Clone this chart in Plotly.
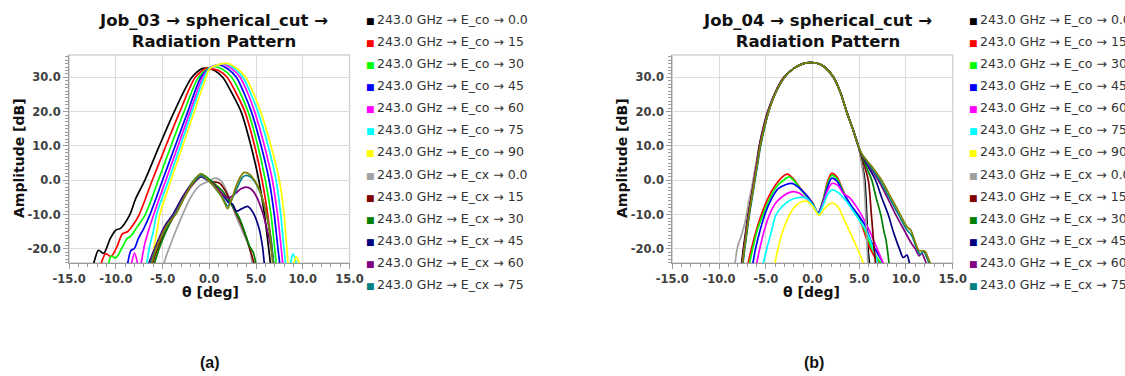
import plotly.graph_objects as go

FIG_W, FIG_H = 1125, 376

# ---------------------------------------------------------------- series
series_names = [
    "243.0 GHz → E_co → 0.0", "243.0 GHz → E_co → 15", "243.0 GHz → E_co → 30",
    "243.0 GHz → E_co → 45", "243.0 GHz → E_co → 60", "243.0 GHz → E_co → 75",
    "243.0 GHz → E_co → 90", "243.0 GHz → E_cx → 0.0", "243.0 GHz → E_cx → 15",
    "243.0 GHz → E_cx → 30", "243.0 GHz → E_cx → 45", "243.0 GHz → E_cx → 60",
    "243.0 GHz → E_cx → 75", "243.0 GHz → E_cx → 90",
]
series_colors = [
    "#000000", "#ff0000", "#00ff00", "#0000ff", "#ff00ff", "#00ffff", "#ffff00",
    "#a0a0a0", "#800000", "#008000", "#000080", "#800080", "#008080", "#808000",
]

# ---------------------------------------------------------------- axes ticks
x_tickvals = [-15, -10, -5, 0, 5, 10, 15]
x_ticktext = ["-15.0", "-10.0", "-5.0", "0.0", "5.0", "10.0", "15.0"]
y_tickvals = [-20, -10, 0, 10, 20, 30]
y_ticktext = ["-20.0", "-10.0", "0.0", "10.0", "20.0", "30.0"]

# ---------------------------------------------------------------- Job_03 (theta [deg], amplitude [dB])
j03_co00_t = [-12.8, -12.4, -11.85, -11.3, -10.6, -10.0, -9.5, -8.5, -7.9, -6.9, -5.35, -3.75, -1.86, -0.7, 0.0, 0.6, 1.43, 2.4, 3.4, 4.46, 5.3, 5.9, 6.36, 6.7]
j03_co00_a = [-28, -24.5, -20.4, -21.3, -17.0, -14.5, -14.0, -10.0, -5.5, 0.0, 10.0, 20.0, 30.0, 32.6, 32.5, 31.9, 30.0, 25.5, 20.0, 10.0, 0.0, -10.0, -20.0, -28]
j03_co15_t = [-12.0, -11.6, -11.1, -10.5, -9.9, -9.3, -8.75, -8.2, -7.5, -6.1, -4.65, -3.15, -1.5, -0.3, 0.0, 1.0, 1.9, 2.85, 3.8, 4.85, 5.65, 6.25, 6.7, 7.0]
j03_co15_a = [-28, -24.5, -21.4, -22.2, -19.5, -15.6, -15.0, -13.2, -10.0, 0.0, 10.0, 20.0, 30.0, 32.7, 32.6, 32.0, 30.0, 25.5, 20.0, 10.0, 0.0, -10.0, -20.0, -28]
j03_co30_t = [-11.1, -10.8, -10.5, -10.0, -9.4, -8.8, -8.4, -7.7, -6.85, -5.45, -4.1, -2.7, -1.15, 0.0, 0.5, 1.5, 2.4, 3.3, 4.15, 5.2, 6.0, 6.6, 7.0, 7.3]
j03_co30_a = [-28, -24.5, -22.1, -22.6, -20.0, -17.0, -16.3, -13.5, -10.0, 0.0, 10.0, 20.0, 30.0, 32.7, 33.2, 32.2, 30.0, 25.5, 20.0, 10.0, 0.0, -10.0, -20.0, -28]
j03_co45_t = [-9.0, -8.75, -8.4, -8.0, -7.6, -7.0, -6.35, -5.0, -3.65, -2.3, -0.9, 0.0, 1.0, 2.0, 2.9, 3.7, 4.5, 5.55, 6.4, 6.95, 7.35, 7.7]
j03_co45_a = [-28, -24.5, -20.5, -19.8, -17.0, -14.0, -10.0, 0.0, 10.0, 20.0, 30.0, 32.6, 33.6, 32.4, 30.0, 25.5, 20.0, 10.0, 0.0, -10.0, -20.0, -28]
j03_co60_t = [-8.6, -8.35, -8.0, -7.65, -7.45, -7.3, -6.9, -5.95, -4.65, -3.35, -2.05, -0.7, 0.0, 0.7, 1.5, 2.5, 3.3, 4.1, 4.85, 5.9, 6.75, 7.3, 7.7, 8.0]
j03_co60_a = [-28, -24.5, -21.2, -24.5, -27, -24.5, -18.5, -10.0, 0.0, 10.0, 20.0, 30.0, 32.5, 33.4, 33.8, 32.3, 30.0, 25.5, 20.0, 10.0, 0.0, -10.0, -20.0, -28]
j03_co75_t = [-7.0, -6.7, -6.4, -6.0, -5.65, -4.35, -3.1, -1.85, -0.55, 0.0, 0.9, 1.8, 2.8, 3.6, 4.4, 5.2, 6.3, 7.15, 7.65, 8.0, 8.3, 8.55, 8.95, 9.3, 9.55]
j03_co75_a = [-28, -24.5, -19.5, -15.0, -10.0, 0.0, 10.0, 20.0, 30.0, 32.5, 33.6, 34.0, 32.3, 30.0, 25.5, 20.0, 10.0, 0.0, -10.0, -20.0, -25.5, -25.5, -21.4, -24.0, -28]
j03_co90_t = [-6.4, -6.15, -5.9, -5.55, -5.3, -4.1, -2.85, -1.6, -0.35, 0.0, 1.0, 2.0, 3.0, 3.9, 4.7, 5.5, 6.6, 7.5, 8.0, 8.3, 8.55, 8.85, 9.3, 9.6, 9.8]
j03_co90_a = [-28, -24.5, -19.5, -14.0, -10.0, 0.0, 10.0, 20.0, 30.0, 32.4, 33.7, 34.0, 32.5, 30.0, 25.5, 20.0, 10.0, 0.0, -10.0, -20.0, -25.5, -25.5, -22.3, -24.0, -28]
j03_cx00_t = [-5.3, -4.9, -4.4, -3.7, -2.85, -2.0, -1.0, 0.0, 0.5, 1.2, 2.0, 2.86, 3.5, 4.1, 4.4, 4.6, 4.8]
j03_cx00_a = [-28, -24.5, -20.5, -15.5, -10.0, -5.0, -1.5, -0.2, 0.6, 0.0, -4.0, -10.5, -14.5, -18.3, -21.0, -24.5, -28]
j03_cx15_t = [-6.4, -6.1, -5.4, -4.6, -3.7, -2.7, -1.7, -0.8, 0.0, 0.5, 1.07, 1.7, 2.5, 3.2, 3.9, 4.4, 4.8, 5.0]
j03_cx15_a = [-28, -24.5, -19, -14.5, -10, -5, -1.0, 1.2, -0.2, -0.5, -0.8, -3.0, -7.6, -11.5, -16.3, -20.5, -24.5, -28]
j03_cx30_t = [-6.2, -5.9, -5.1, -4.4, -3.8, -2.8, -1.8, -0.9, -0.3, 0.5, 1.3, 1.9, 2.6, 3.3, 3.9, 4.3, 4.7, 5.0, 5.2]
j03_cx30_a = [-28, -24.5, -18, -13.5, -10, -5, -0.5, 1.9, 1.0, -0.9, -2.8, -5.0, -8.0, -11.5, -16.0, -19.2, -21.0, -24.5, -28]
j03_cx45_t = [-6.8, -6.5, -5.7, -4.8, -3.9, -3.0, -2.0, -0.9, 0.0, 0.8, 1.5, 2.1, 2.5, 2.9, 3.4, 4.1, 4.7, 5.36, 5.7, 5.9, 6.1]
j03_cx45_a = [-28, -24.5, -19, -13.5, -10, -5.5, -1.5, 1.0, -0.3, -2.2, -4.5, -6.6, -7.0, -9.0, -8.4, -7.6, -9.5, -14.4, -19.5, -24.5, -28]
j03_cx60_t = [-6.7, -6.4, -5.6, -4.7, -3.8, -2.9, -1.9, -0.9, 0.0, 0.9, 1.6, 2.1, 2.8, 3.4, 3.9, 4.5, 5.0, 5.6, 6.2, 6.6, 6.9, 7.1]
j03_cx60_a = [-28, -24.5, -18.5, -13.5, -10, -5.5, -1.2, 1.0, -0.3, -2.5, -4.5, -5.1, -3.8, -2.5, -2.0, -2.6, -4.5, -8.5, -14.5, -19.5, -24.5, -28]
j03_cx75_t = [-6.6, -6.3, -5.5, -4.6, -3.7, -2.8, -1.8, -0.9, 0.0, 0.7, 1.4, 2.0, 2.5, 3.1, 3.5, 3.9, 4.5, 5.1, 5.7, 6.2, 6.6, 6.9, 7.1]
j03_cx75_a = [-28, -24.5, -18.5, -13.5, -10, -5.5, -1.0, 1.3, -0.3, -2.5, -5.0, -7.5, -5.0, -1.5, 0.7, 1.4, 0.8, -1.5, -5.5, -11.0, -17.0, -24.5, -28]
j03_cx90_t = [-6.5, -6.2, -5.4, -4.5, -3.6, -2.7, -1.8, -0.9, 0.0, 0.6, 1.2, 1.7, 1.96, 2.4, 2.9, 3.4, 3.75, 4.3, 4.9, 5.4, 5.9, 6.4, 6.8, 7.0]
j03_cx90_a = [-28, -24.5, -18.0, -13.0, -10, -5.2, -0.8, 1.9, -0.3, -2.0, -4.2, -7.0, -8.3, -5.5, -1.5, 1.3, 2.3, 1.8, -0.3, -3.0, -7.5, -14.0, -24.5, -28]

# ---------------------------------------------------------------- Job_04 (theta [deg], amplitude [dB])
j04_co00_t = [-7.8, -7.6, -7.4, -7.15, -6.9, -6.6, -6.3, -6.0, -5.7, -5.3, -4.8, -4.0, -3.0, -2.0, -1.0, -0.3, 0.5, 1.3, 2.23, 3.0, 3.65, 4.3, 4.9, 5.3, 5.6, 5.8, 5.95, 6.1, 6.2]
j04_co00_a = [-28, -24.5, -20, -15, -10, -5, 0, 5, 10, 15, 20, 25.5, 30.2, 32.6, 34.0, 34.3, 34.1, 33.0, 30, 25.5, 20, 15, 10, 5, 0, -10, -20, -24.5, -28]
j04_co15_t = [-7.1, -6.9, -6.54, -6.0, -5.47, -4.76, -4.0, -3.3, -2.7, -2.0, -1.3, -0.7, 0.0, 0.6, 1.1, 1.6, 2.05, 2.6, 3.2, 4.0, 4.9, 5.4, 6.15, 6.7, 7.2, 7.5]
j04_co15_a = [-28, -24.5, -20, -14.5, -10, -5.2, -1.5, 0.8, 1.8, 0.3, -2.3, -4.3, -6.5, -9.5, -6.0, -0.5, 2.0, 1.0, -2.5, -7.2, -10.5, -14, -19.8, -22.5, -24.5, -28]
j04_co30_t = [-6.9, -6.75, -6.4, -5.9, -5.3, -4.6, -3.9, -3.1, -2.5, -1.9, -1.3, -0.7, 0.0, 0.6, 1.1, 1.6, 2.05, 2.6, 3.2, 4.0, 4.9, 5.5, 6.3, 6.9, 7.4, 7.7]
j04_co30_a = [-28, -24.5, -20, -14.5, -10, -5.5, -2.0, 0.0, 1.0, -0.3, -2.5, -4.5, -6.7, -9.5, -6.2, -1.2, 1.4, 0.5, -2.8, -7.0, -10.8, -14, -19.5, -22.5, -24.5, -28]
j04_co45_t = [-6.7, -6.4, -6.1, -5.6, -5.1, -4.4, -3.7, -2.9, -2.2, -1.6, -1.0, -0.5, 0.0, 0.6, 1.1, 1.6, 2.05, 2.6, 3.2, 4.0, 5.0, 5.6, 6.3, 7.0, 7.6, 7.9]
j04_co45_a = [-28, -24.5, -20, -14.5, -10, -5.5, -2.5, -1.3, -0.9, -1.8, -3.3, -4.8, -6.8, -9.5, -6.5, -2.0, 0.6, -0.2, -3.2, -6.8, -10.5, -13, -18, -21.5, -24.5, -28]
j04_co60_t = [-6.3, -6.0, -5.65, -5.2, -4.6, -3.9, -3.1, -2.5, -2.0, -1.4, -0.8, -0.3, 0.2, 0.65, 1.1, 1.6, 2.1, 2.7, 3.3, 4.0, 5.0, 6.15, 7.0, 7.6, 7.9]
j04_co60_a = [-28, -24.5, -20, -15, -10, -6.5, -4.5, -3.6, -3.3, -3.8, -5.0, -6.2, -8.0, -9.7, -7.0, -3.0, -0.9, -1.5, -3.8, -5.2, -9.0, -15, -20.5, -24.5, -28]
j04_co75_t = [-5.6, -5.3, -4.9, -4.4, -3.9, -3.2, -2.4, -1.6, -1.0, -0.5, 0.1, 0.65, 1.1, 1.6, 2.1, 2.7, 3.65, 4.6, 5.8, 6.5, 7.0, 7.2]
j04_co75_a = [-28, -24.5, -20, -15, -10, -7.5, -5.8, -5.1, -4.9, -5.5, -7.5, -9.8, -7.5, -4.2, -2.8, -3.5, -6.2, -10.0, -15, -20, -24.5, -28]
j04_co90_t = [-4.3, -4.05, -3.7, -3.2, -2.44, -1.7, -1.1, -0.6, 0.0, 0.7, 1.2, 1.7, 2.2, 2.8, 3.3, 4.0, 4.7, 5.2, 5.5, 5.7]
j04_co90_a = [-28, -24.5, -20, -15, -10, -7.2, -6.2, -6.1, -7.5, -10.2, -8.5, -7.1, -6.7, -8.0, -11.0, -15.0, -19.3, -22.5, -24.5, -28]
j04_cx00_t = [-8.5, -8.3, -8.1, -7.95, -7.6, -7.2, -6.8, -6.5, -6.2, -5.9, -5.6, -5.25, -4.75, -4.0, -3.0, -2.0, -1.0, -0.3, 0.5, 1.3, 2.2, 3.0, 3.65, 4.3, 4.9, 5.25, 5.5, 5.7, 5.85, 5.95, 6.05]
j04_cx00_a = [-28, -24.5, -20.5, -18.8, -16, -12, -6, -2, 2.5, 6.5, 10.5, 15, 20, 25.5, 30.2, 32.6, 34.0, 34.3, 34.1, 33.0, 30, 25.5, 20, 15, 10, 5, 0, -10, -20, -24.5, -28]
j04_cx15_t = [-7.75, -7.55, -7.35, -7.1, -6.85, -6.55, -6.25, -5.95, -5.65, -5.25, -4.75, -4.0, -3.0, -2.0, -1.0, -0.3, 0.5, 1.3, 2.25, 3.0, 3.65, 4.3, 4.9, 5.35, 5.97, 6.3, 6.6, 6.75, 6.85]
j04_cx15_a = [-28, -24.5, -20, -15, -10, -5, 0, 5, 10, 15, 20, 25.5, 30.2, 32.6, 34.0, 34.3, 34.1, 33.0, 30, 25.5, 20, 15, 10, 6, 0, -10, -20, -24.5, -28]
j04_cx30_t = [-7.7, -7.5, -7.3, -7.05, -6.8, -6.5, -6.2, -5.9, -5.6, -5.2, -4.7, -3.95, -2.95, -2.0, -1.0, -0.3, 0.5, 1.3, 2.25, 3.0, 3.65, 4.3, 4.9, 5.3, 5.9, 6.35, 6.8, 7.3, 7.65, 7.85, 8.0, 8.2, 8.3]
j04_cx30_a = [-28, -24.5, -20, -15, -10, -5, 0, 5, 10, 15, 20, 25.5, 30.2, 32.6, 34.0, 34.3, 34.1, 33.0, 30, 25.5, 20, 15, 10, 7.0, 3.0, 0, -5, -10, -15, -17.2, -20, -24.5, -28]
j04_cx45_t = [-7.7, -7.5, -7.3, -7.05, -6.8, -6.5, -6.2, -5.9, -5.6, -5.2, -4.7, -3.95, -2.95, -2.0, -1.0, -0.3, 0.5, 1.3, 2.25, 3.0, 3.65, 4.3, 4.9, 5.3, 6.0, 6.75, 7.4, 8.1, 8.65, 9.3, 9.7, 10.1, 10.4, 10.6]
j04_cx45_a = [-28, -24.5, -20, -15, -10, -5, 0, 5, 10, 15, 20, 25.5, 30.2, 32.6, 34.0, 34.3, 34.1, 33.0, 30, 25.5, 20, 15, 10, 7.3, 3.8, 0, -5, -10, -15, -20, -22.5, -21.8, -24.5, -28]
j04_cx60_t = [-7.75, -7.55, -7.35, -7.1, -6.85, -6.55, -6.25, -5.95, -5.65, -5.25, -4.75, -4.0, -3.0, -2.0, -1.0, -0.3, 0.5, 1.3, 2.25, 3.0, 3.65, 4.3, 4.9, 5.3, 6.1, 7.05, 8.0, 8.9, 9.9, 10.5, 11.0, 11.4, 11.7, 12.0, 12.2, 12.4]
j04_cx60_a = [-28, -24.5, -20, -15, -10, -5, 0, 5, 10, 15, 20, 25.5, 30.2, 32.6, 34.0, 34.3, 34.1, 33.0, 30, 25.5, 20, 15, 10, 7.4, 4.0, 0, -5, -10, -15, -18, -20, -22, -21.3, -23, -24.5, -28]
j04_cx75_t = [-7.65, -7.45, -7.25, -7.0, -6.75, -6.45, -6.15, -5.85, -5.55, -5.15, -4.7, -3.95, -2.95, -2.0, -1.0, -0.3, 0.5, 1.3, 2.25, 3.0, 3.65, 4.3, 4.9, 5.3, 6.2, 7.2, 8.2, 9.2, 10.1, 10.6, 11.1, 11.5, 11.9, 12.3, 12.5, 12.7]
j04_cx75_a = [-28, -24.5, -20, -15, -10, -5, 0, 5, 10, 15, 20, 25.5, 30.2, 32.6, 34.0, 34.3, 34.1, 33.0, 30, 25.5, 20, 15, 10, 7.5, 4.0, 0, -5, -10, -14.5, -16, -19.5, -21.5, -20.8, -23, -24.5, -28]
j04_cx90_t = [-7.7, -7.5, -7.3, -7.05, -6.8, -6.5, -6.2, -5.9, -5.6, -5.2, -4.7, -3.95, -2.95, -2.0, -1.0, -0.3, 0.5, 1.3, 2.25, 3.0, 3.65, 4.3, 4.9, 5.3, 6.3, 7.4, 8.4, 9.4, 10.1, 10.5, 11.0, 11.4, 12.0, 12.5, 12.7, 12.9]
j04_cx90_a = [-28, -24.5, -20, -15, -10, -5, 0, 5, 10, 15, 20, 25.5, 30.2, 32.6, 34.0, 34.3, 34.1, 33.0, 30, 25.5, 20, 15, 10, 7.6, 4.2, 0, -5, -10, -13.5, -14.5, -18, -20.5, -20.6, -23.5, -25, -28]

job03_curves = [
    (j03_co00_t, j03_co00_a), (j03_co15_t, j03_co15_a), (j03_co30_t, j03_co30_a),
    (j03_co45_t, j03_co45_a), (j03_co60_t, j03_co60_a), (j03_co75_t, j03_co75_a),
    (j03_co90_t, j03_co90_a), (j03_cx00_t, j03_cx00_a), (j03_cx15_t, j03_cx15_a),
    (j03_cx30_t, j03_cx30_a), (j03_cx45_t, j03_cx45_a), (j03_cx60_t, j03_cx60_a),
    (j03_cx75_t, j03_cx75_a), (j03_cx90_t, j03_cx90_a),
]
job04_curves = [
    (j04_co00_t, j04_co00_a), (j04_co15_t, j04_co15_a), (j04_co30_t, j04_co30_a),
    (j04_co45_t, j04_co45_a), (j04_co60_t, j04_co60_a), (j04_co75_t, j04_co75_a),
    (j04_co90_t, j04_co90_a), (j04_cx00_t, j04_cx00_a), (j04_cx15_t, j04_cx15_a),
    (j04_cx30_t, j04_cx30_a), (j04_cx45_t, j04_cx45_a), (j04_cx60_t, j04_cx60_a),
    (j04_cx75_t, j04_cx75_a), (j04_cx90_t, j04_cx90_a),
]

# ---------------------------------------------------------------- figure
fig = go.Figure()


def px_x(px):
    return px / FIG_W


def px_y(px):
    return 1 - px / FIG_H


def legend_label(color, name):
    # small coloured swatch set tight against the entry text
    return f'<span style="color:{color};font-size:9px">■</span>\u2009{name}'


panels = [("x", "y", "legend", job03_curves), ("x2", "y2", "legend2", job04_curves)]
for xa, ya, leg, curves in panels:
    for i, (t, a) in enumerate(curves):
        fig.add_trace(go.Scatter(
            x=t, y=a, xaxis=xa, yaxis=ya, mode="lines",
            line=dict(color=series_colors[i], width=1.7, shape="spline", smoothing=0.8),
            showlegend=False, hoverinfo="skip",
        ))
    # legend entries; the swatch lives in the label, the last entry falls below the page
    for i, name in enumerate(series_names[:13]):
        fig.add_trace(go.Scatter(
            x=[None], y=[None], xaxis=xa, yaxis=ya, mode="markers",
            name=legend_label(series_colors[i], name),
            marker=dict(color="rgba(0,0,0,0)", size=0, line=dict(width=0)),
            legend=leg, legendgroup=f"{leg}_{i}", showlegend=True,
        ))

tick_font = dict(family="DejaVu Sans", size=11.5, color="#404040", weight="bold")
axis_line = "#9c9c9c"
x_common = dict(
    range=[-15, 15], tickmode="array", tickvals=x_tickvals, ticktext=x_ticktext,
    showgrid=True, gridcolor="#dcdcdc", gridwidth=1.4, zeroline=False,
    showline=True, linecolor=axis_line, linewidth=1.2,
    ticks="outside", ticklen=5, tickwidth=1, tickcolor=axis_line,
    minor=dict(dtick=1, tick0=0, ticks="outside", ticklen=3, tickcolor=axis_line, showgrid=False),
    tickfont=tick_font, fixedrange=True,
)
y_common = dict(
    range=[-24.1, 36.5], tickmode="array", tickvals=y_tickvals, ticktext=y_ticktext,
    showgrid=True, gridcolor="#dcdcdc", gridwidth=1.4, zeroline=False,
    showline=True, linecolor=axis_line, linewidth=1.2,
    ticks="outside", ticklen=5, tickwidth=1, tickcolor=axis_line,
    minor=dict(dtick=1, tick0=0, ticks="outside", ticklen=3, tickcolor=axis_line, showgrid=False),
    tickfont=tick_font, fixedrange=True,
)

y_dom = [px_y(263), px_y(55)]
fig.update_layout(
    width=FIG_W, height=FIG_H,
    margin=dict(l=0, r=0, t=0, b=0, autoexpand=False),
    paper_bgcolor="white", plot_bgcolor="white",
    xaxis=dict(domain=[px_x(69.1), px_x(349.5)], anchor="y", **x_common),
    yaxis=dict(domain=y_dom, anchor="x", **y_common),
    xaxis2=dict(domain=[px_x(672.3), px_x(952.7)], anchor="y2", **x_common),
    yaxis2=dict(domain=y_dom, anchor="x2", **y_common),
)

legend_common = dict(
    xanchor="left", yanchor="top", y=px_y(4),
    bgcolor="rgba(0,0,0,0)", borderwidth=0, tracegroupgap=2.9,
    traceorder="grouped", itemsizing="trace",
    font=dict(family="DejaVu Sans", size=12.5, color="#333333"),
)
fig.update_layout(
    legend=dict(x=px_x(366 - 40), **legend_common),
    legend2=dict(x=px_x(969 - 40), **legend_common),
)

# light frame around each plotting area
for xa, ya in (("x", "y"), ("x2", "y2")):
    fig.add_shape(type="rect", xref=f"{xa} domain", yref=f"{ya} domain",
                  x0=0, x1=1, y0=0, y1=1, line=dict(color="#d2d2d2", width=1.4),
                  layer="below")

title_font = dict(family="DejaVu Sans", size=16.5, color="#111111", weight="bold")
label_font = dict(family="DejaVu Sans", size=14, color="#111111", weight="bold")
caption_font = dict(family="Liberation Sans", size=16, color="#111111", weight="bold")
annotations = [
    dict(x=px_x(214), y=px_y(31), text="Job_03 → spherical_cut →<br>Radiation Pattern", font=title_font),
    dict(x=px_x(817), y=px_y(31), text="Job_04 → spherical_cut →<br>Radiation Pattern", font=title_font),
    dict(x=px_x(19), y=px_y(158), text="Amplitude [dB]", textangle=-90, font=label_font),
    dict(x=px_x(622), y=px_y(158), text="Amplitude [dB]", textangle=-90, font=label_font),
    dict(x=px_x(210), y=px_y(292), text="θ [deg]", font=label_font),
    dict(x=px_x(811), y=px_y(292), text="θ [deg]", font=label_font),
    dict(x=px_x(210), y=px_y(362), text="(a)", font=caption_font),
    dict(x=px_x(814), y=px_y(362), text="(b)", font=caption_font),
]
for ann in annotations:
    fig.add_annotation(xref="paper", yref="paper", xanchor="center", yanchor="middle",
                       showarrow=False, **ann)

fig.write_html("out.html")
